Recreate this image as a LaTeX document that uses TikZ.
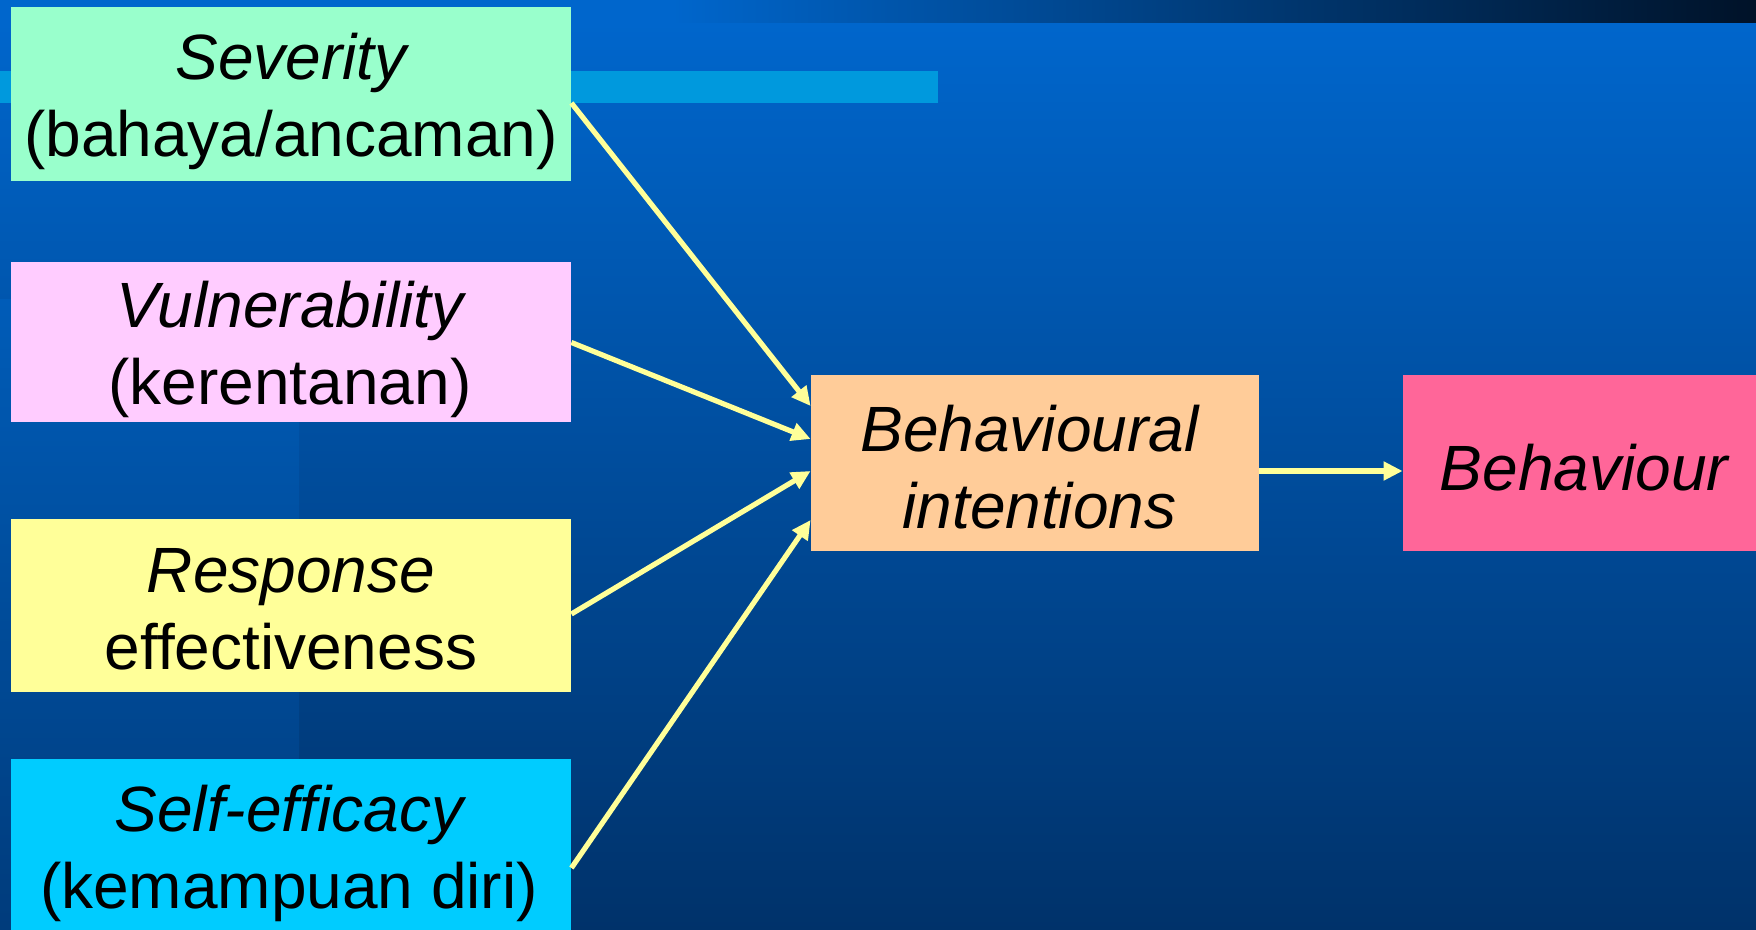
\documentclass[tikz,border=0pt]{standalone}
\usepackage{fontspec}
\setmainfont{Liberation Sans}
\usetikzlibrary{arrows.meta}
\definecolor{bgtop}{HTML}{0066CC}
\definecolor{bgbot}{HTML}{00326A}
\definecolor{bandend}{HTML}{001228}
\definecolor{stripbar}{HTML}{0099DD}
\definecolor{striptop}{HTML}{005CB8}
\definecolor{stripbot}{HTML}{004A96}
\definecolor{cSev}{HTML}{99FFCC}
\definecolor{cVul}{HTML}{FFCCFF}
\definecolor{cRes}{HTML}{FFFF99}
\definecolor{cSelf}{HTML}{00CCFF}
\definecolor{cBI}{HTML}{FFCC99}
\definecolor{cBeh}{HTML}{FF6699}
\definecolor{arrowc}{HTML}{FFFF99}
% #1 = horizontal kern (2x shift), #2 = baseline of last line below centre, #3 = lines
\newcommand{\boxtext}[3]{\kern#1\raisebox{0pt}[\dimexpr 2\dimexpr#2\relax\relax][0pt]{\begin{tabular}[b]{@{}c@{}}#3\end{tabular}}}
\tikzset{
  box/.style={rectangle, inner sep=0pt, text=black,
    font=\fontsize{32}{38.5}\selectfont},
  leftbox/.style={box, minimum width=280pt},
  link/.style={draw=arrowc, line width=2.6pt, -{Triangle[length=9.5pt,width=9pt]}}
}
\begin{document}
\begin{tikzpicture}[x=0.5pt, y=-0.5pt]
\useasboundingbox (0,0) rectangle (1756,930);
% background
\shade[top color=bgtop, bottom color=bgbot] (0,23) rectangle (1756,930);
\fill[bgtop] (0,0) rectangle (672,23);
\shade[left color=bgtop, right color=bandend] (672,0) rectangle (1756,23);
\shade[top color=striptop, bottom color=bgbot!60!stripbot] (0,300) rectangle (299,930);
\fill[stripbar] (0,71) rectangle (938,103);
% nodes
\node[leftbox, fill=cSev, minimum height=87pt] (sev) at (291,94)
  {\boxtext{0pt}{31.5pt}{\itshape Severity\\(bahaya/ancaman)}};
\node[leftbox, fill=cVul, minimum height=80pt] (vul) at (291,342.5)
  {\boxtext{-1pt}{31pt}{\itshape Vulnerability\\(kerentanan)}};
\node[leftbox, fill=cRes, minimum height=86.5pt] (res) at (291,605.5)
  {\boxtext{0pt}{32.2pt}{\itshape Response\\effectiveness}};
\node[leftbox, fill=cSelf, minimum height=85.5pt] (self) at (291,844.5)
  {\boxtext{-2pt}{32.2pt}{\itshape Self-efficacy\\(kemampuan diri)}};
\node[box, fill=cBI, minimum width=224pt, minimum height=88pt] (bi) at (1035,463)
  {\boxtext{-5.6pt}{32.75pt}{\itshape Behavioural\\\kern10pt\itshape intentions}};
\node[box, fill=cBeh, minimum width=176.5pt, minimum height=88pt] (beh) at (1579.5,463)
  {\boxtext{4.4pt}{13.5pt}{\itshape Behaviour}};
% connectors
\draw[link] ([yshift=-4.5pt]sev.east) -- ([yshift=28.5pt]bi.west);
\draw[link] (vul.east) -- ([yshift=12pt]bi.west);
\draw[link] ([yshift=-4.25pt]res.east) -- ([yshift=-4pt]bi.west);
\draw[link] ([yshift=-11.75pt]self.east) -- ([yshift=-28.5pt]bi.west);
\draw[link] ([yshift=-4pt]bi.east) -- ([yshift=-4pt]beh.west);
\end{tikzpicture}
\end{document}
